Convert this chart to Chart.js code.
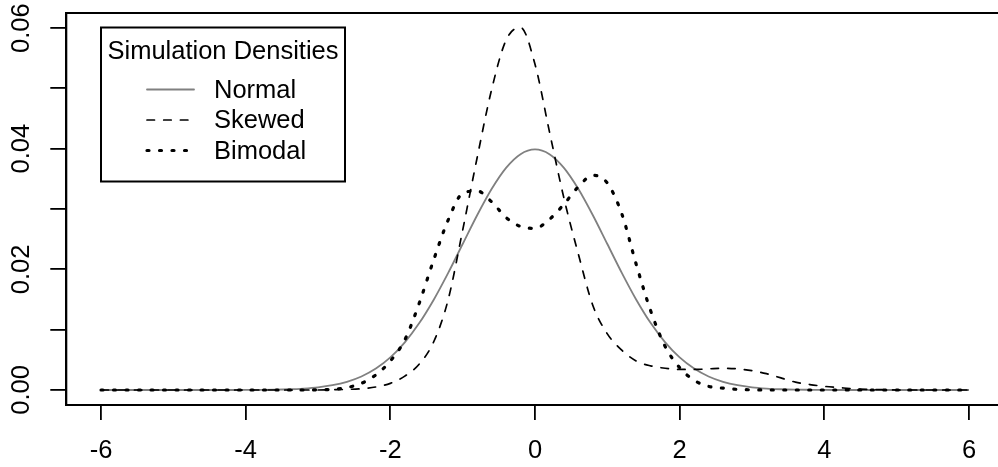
<!DOCTYPE html>
<html><head><meta charset="utf-8">
<script src="https://cdn.jsdelivr.net/npm/chart.js@4.4.1/dist/chart.umd.min.js"></script>
<style>html,body{margin:0;padding:0;overflow:hidden;background:#fff;width:998px;height:467px}canvas{display:block}</style>
</head><body>
<canvas id="c" width="1010" height="467"></canvas>
<script>
const xValues = [-6,-5.8,-5.6,-5.4,-5.2,-5,-4.8,-4.6,-4.4,-4.2,-4,-3.8,-3.6,-3.4,-3.2,-3,-2.8,-2.6,-2.4,-2.2,-2,-1.8,-1.6,-1.4,-1.2,-1,-0.8,-0.6,-0.4,-0.2,0,0.2,0.4,0.6,0.8,1,1.2,1.4,1.6,1.8,2,2.2,2.4,2.6,2.8,3,3.2,3.4,3.6,3.8,4,4.2,4.4,4.6,4.8,5,5.2,5.4,5.6,5.8,6];
const normalDensity = [0,0,0,0,0,0,0,0,0,0,
  0.00001,0.00003,0.00006,0.00012,0.00024,0.00044,0.00079,0.00136,0.00224,0.00355,
  0.0054,0.0079,0.01109,0.01497,0.01942,0.0242,0.02897,0.03332,0.03683,0.0391,
  0.03989,
  0.0391,0.03683,0.03332,0.02897,0.0242,0.01942,0.01497,0.01109,0.0079,0.0054,
  0.00355,0.00224,0.00136,0.00079,0.00044,0.00024,0.00012,0.00006,0.00003,0.00001,
  0,0,0,0,0,0,0,0,0,0];
const skewedDensity = [0,0,0,0,0,0,0,0,0,0,0,0,0,0,0,0,
  0.00005,0.0001,0.0002,0.0005,0.0011,0.0023,0.0043,0.0080,0.0150,0.0265,
  0.0385,0.0498,0.0580,0.0601,0.0540,0.0428,0.0318,0.0225,0.0140,0.0093,
  0.0066,0.0048,0.0040,0.0036,0.0034,0.0034,0.0035,0.0036,0.0035,0.0032,
  0.0027,0.0020,0.0013,0.0009,0.0006,0.0004,0.0002,0.0001,0.00005,
  0,0,0,0,0,0];
const bimodalDensity = [0,0,0,0,0,0,0,0,0,0,0,0,0,0,0,
  0.00003,0.0001,0.0004,0.0011,0.0025,0.0048,0.0083,0.0144,0.0216,0.0282,
  0.0326,0.0330,0.0312,0.0286,0.0271,0.0268,0.0283,0.0308,0.0337,0.0356,
  0.0343,0.0292,0.0208,0.0131,0.0072,0.0037,0.0016,0.0006,0.0003,0.0001,
  0.00003,
  0,0,0,0,0,0,0,0,0,0,0,0,0,0,0];
const seriesNames = ['Normal','Skewed','Bimodal'];
const legendTitle = 'Simulation Densities';
const xTickValues = [-6,-4,-2,0,2,4,6];
const xTickLabels = ['-6','-4','-2','0','2','4','6'];
const yTickValues = [0,0.01,0.02,0.03,0.04,0.05,0.06];
const yTickLabels = ['0.00','','0.02','','0.04','','0.06'];

const FONT = "'Liberation Sans', Arial, Helvetica, sans-serif";
const FS = 25.5;
const toXY = arr => arr.map((y,i)=>({x:xValues[i], y:y}));

const boxPlugin = {
  id:'boxPlugin',
  afterDraw(chart){
    const {ctx, chartArea:a} = chart;
    ctx.save();
    ctx.strokeStyle='#000'; ctx.lineWidth=2;
    ctx.strokeRect(a.left, a.top, a.right-a.left, a.bottom-a.top);
    const L = {x:101, y:27.5, w:244, h:154};
    ctx.fillStyle='#fff';
    ctx.fillRect(L.x, L.y, L.w, L.h);
    ctx.strokeRect(L.x, L.y, L.w, L.h);
    ctx.fillStyle='#000';
    ctx.font = FS + "px " + FONT;
    ctx.textBaseline='middle';
    ctx.textAlign='center';
    ctx.fillText(legendTitle, 223, 52);
    ctx.textAlign='left';
    const rows=[89.5,120,150.5];
    chart.data.datasets.forEach((ds,i)=>{
      const y=rows[i];
      ctx.save();
      ctx.strokeStyle=ds.borderColor; ctx.lineWidth=ds.borderWidth;
      ctx.lineCap='round';
      ctx.setLineDash(ds.borderDash||[]);
      ctx.beginPath(); ctx.moveTo(147,y); ctx.lineTo(194,y); ctx.stroke();
      ctx.restore();
      ctx.fillText(ds.label, 214, y+1);
    });
    ctx.restore();
  }
};

new Chart(document.getElementById('c'), {
  type:'line',
  data:{datasets:[
    {label:seriesNames[0], data:toXY(normalDensity), borderColor:'#808080', borderWidth:1.8, borderDash:[], order:2},
    {label:seriesNames[1], data:toXY(skewedDensity), borderColor:'#000', borderWidth:1.7, borderDash:[7.5,9.2], borderCapStyle:'round', order:1},
    {label:seriesNames[2], data:toXY(bimodalDensity), borderColor:'#000', borderWidth:3.2, borderDash:[2,10.5], borderCapStyle:'round', order:0}
  ]},
  options:{
    responsive:false, animation:false, devicePixelRatio:1,
    layout:{padding:{top:13,right:6.3,left:0,bottom:0}},
    elements:{point:{radius:0}, line:{cubicInterpolationMode:'monotone', fill:false}},
    plugins:{legend:{display:false}, tooltip:{enabled:false}},
    scales:{
      x:{type:'linear', min:-6.48, max:6.48,
        afterBuildTicks:s=>{s.ticks=xTickValues.map(v=>({value:v}));},
        afterFit:s=>{s.height=62; s.paddingLeft=0; s.paddingRight=0;},
        ticks:{autoSkip:false, maxRotation:0, color:'#000', font:{family:FONT,size:FS}, padding:16,
          callback:(v,i)=>xTickLabels[i]},
        grid:{drawOnChartArea:false, drawTicks:true, tickLength:15, color:'#000', lineWidth:1.8},
        border:{display:true,color:'#000',width:2}
      },
      y:{type:'linear', min:-0.00249, max:0.0625,
        afterBuildTicks:s=>{s.ticks=yTickValues.map(v=>({value:v}));},
        afterFit:s=>{s.width=66.3; s.paddingTop=0; s.paddingBottom=0;},
        ticks:{autoSkip:false, minRotation:90, maxRotation:90, crossAlign:'center', color:'#000', font:{family:FONT,size:FS}, padding:3.5,
          callback:(v,i)=>yTickLabels[i]},
        grid:{drawOnChartArea:false, drawTicks:true, tickLength:16, color:'#000', lineWidth:1.8},
        border:{display:true,color:'#000',width:2}
      }
    }
  },
  plugins:[boxPlugin]
});
</script>
</body></html>
